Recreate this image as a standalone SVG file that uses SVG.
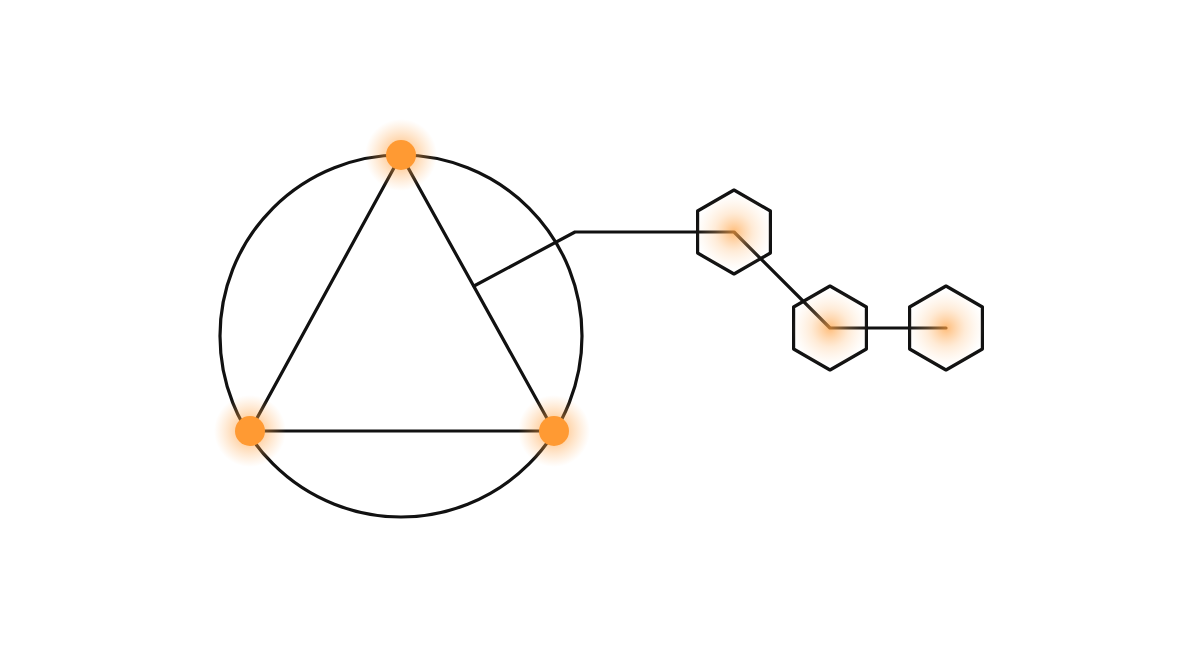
<svg xmlns="http://www.w3.org/2000/svg" width="1200" height="655" viewBox="0 0 1200 655">
<defs>
<radialGradient id="dotGlow">
<stop offset="0" stop-color="#ff9a33" stop-opacity="0.85"/>
<stop offset="0.45" stop-color="#ffa040" stop-opacity="0.4"/>
<stop offset="1" stop-color="#ffb060" stop-opacity="0"/>
</radialGradient>
<radialGradient id="hexGlow">
<stop offset="0" stop-color="#ffa040" stop-opacity="0.7"/>
<stop offset="0.5" stop-color="#ffb870" stop-opacity="0.28"/>
<stop offset="1" stop-color="#ffd0a0" stop-opacity="0"/>
</radialGradient>
<polygon id="hex" points="0,-42 36.4,-21 36.4,21 0,42 -36.4,21 -36.4,-21"/>
</defs>
<style>
.ln{fill:none;stroke:#111;stroke-width:3.2;stroke-linejoin:round;stroke-linecap:round}
.hx{fill:none;stroke:#111;stroke-width:3.2;stroke-linejoin:round}
.dot{fill:#ff9a33}
</style>
<rect width="1200" height="655" fill="#fff"/>
<g id="connectors">
<circle class="ln" cx="401" cy="336" r="181"/>
<polygon class="ln" points="401,155 250,431 554,431"/>
<polyline class="ln" points="474,286 575,232 734,232 830,328 946,328"/>
</g>
<g id="hex1"><use href="#hex" class="hx" x="734" y="232"/><circle cx="734" cy="232" r="38" fill="url(#hexGlow)"/></g>
<g id="hex2"><use href="#hex" class="hx" x="830" y="328"/><circle cx="830" cy="328" r="38" fill="url(#hexGlow)"/></g>
<g id="hex3"><use href="#hex" class="hx" x="946" y="328"/><circle cx="946" cy="328" r="38" fill="url(#hexGlow)"/></g>
<g id="v-top"><circle cx="401" cy="155" r="36" fill="url(#dotGlow)"/><circle class="dot" cx="401" cy="155" r="15"/></g>
<g id="v-left"><circle cx="250" cy="431" r="36" fill="url(#dotGlow)"/><circle class="dot" cx="250" cy="431" r="15"/></g>
<g id="v-right"><circle cx="554" cy="431" r="36" fill="url(#dotGlow)"/><circle class="dot" cx="554" cy="431" r="15"/></g>
</svg>
